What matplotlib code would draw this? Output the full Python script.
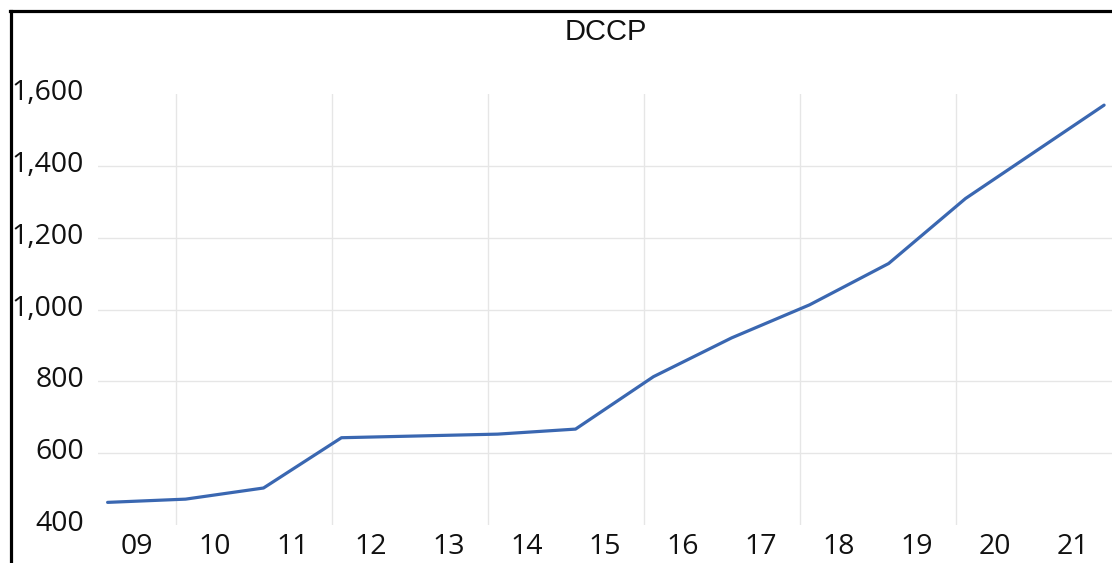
import matplotlib
matplotlib.use("Agg")
import matplotlib.pyplot as plt
import matplotlib.transforms as mtransforms
from matplotlib.lines import Line2D
import pandas as pd

# ---- data ----
dates = ["2009-02-15", "2010-02-15", "2011-02-15", "2012-02-15", "2013-02-15",
         "2014-02-15", "2015-02-15", "2016-02-15", "2017-02-15", "2018-02-15",
         "2019-02-20", "2020-02-15", "2021-11-25"]
values = [463, 472, 503, 643, 648, 653, 667, 813, 921, 1013, 1128, 1309, 1569]
year_labels = ["09", "10", "11", "12", "13", "14", "15", "16", "17", "18", "19", "20", "21"]
years = list(range(2009, 2022))
y_ticks = [400, 600, 800, 1000, 1200, 1400, 1600]
title = "DCCP"

W, H = 1112, 563
fig = plt.figure(figsize=(W / 100, H / 100), dpi=100)
ax = fig.add_axes([98 / W, 1 - 525 / H, 1 - 98 / W, (525 - 94) / H])

x = pd.to_datetime(dates)
ax.plot(x, values, color="#3a67b1", lw=2.3, solid_joinstyle="round", solid_capstyle="round", zorder=3)

ax.set_ylim(400, 1600)
ax.set_xlim(pd.Timestamp("2009-01-01"), pd.Timestamp("2022-01-01"))

ax.set_yticks(y_ticks)
ax.set_yticklabels([f"{v:,}" for v in y_ticks])

mid = pd.to_datetime([f"{y}-07-02" for y in years])
ax.set_xticks(mid)
ax.set_xticklabels(year_labels)
ax.set_xticks(pd.to_datetime([f"{y}-01-01" for y in years if y % 2 == 0]), minor=True)

ax.tick_params(axis="both", which="both", length=0)
ax.tick_params(axis="y", pad=10, labelsize=20.5)
ax.tick_params(axis="x", pad=6, labelsize=20.5)
up = mtransforms.ScaledTranslation(0, 4.5 / 100, fig.dpi_scale_trans)
for lab in ax.get_xticklabels() + ax.get_yticklabels():
    lab.set_fontfamily("Open Sans")
    lab.set_color("#111111")
for lab in ax.get_yticklabels():
    lab.set_transform(lab.get_transform() + up)

ax.grid(axis="y", which="major", color="#e6e6e6", lw=1.0)
ax.grid(axis="x", which="minor", color="#e6e6e6", lw=1.0)
ax.grid(axis="x", which="major", visible=False)
yt = ax.yaxis.get_major_ticks()
yt[0].gridline.set_visible(False)
yt[-1].gridline.set_visible(False)

for s in ax.spines.values():
    s.set_visible(False)

fig.text(606 / W, 1 - 32 / H, title, ha="center", va="center", fontsize=21,
         family="Liberation Sans", color="#111111")

# outer border (left & top visible)
fig.add_artist(Line2D([10.5 / W, 10.5 / W], [0, 1 - 10.5 / H], transform=fig.transFigure,
                      color="black", lw=2.3))
fig.add_artist(Line2D([9.5 / W, 1], [1 - 10.5 / H, 1 - 10.5 / H], transform=fig.transFigure,
                      color="black", lw=2.3))

fig.savefig("out.png", dpi=100, facecolor="white")
